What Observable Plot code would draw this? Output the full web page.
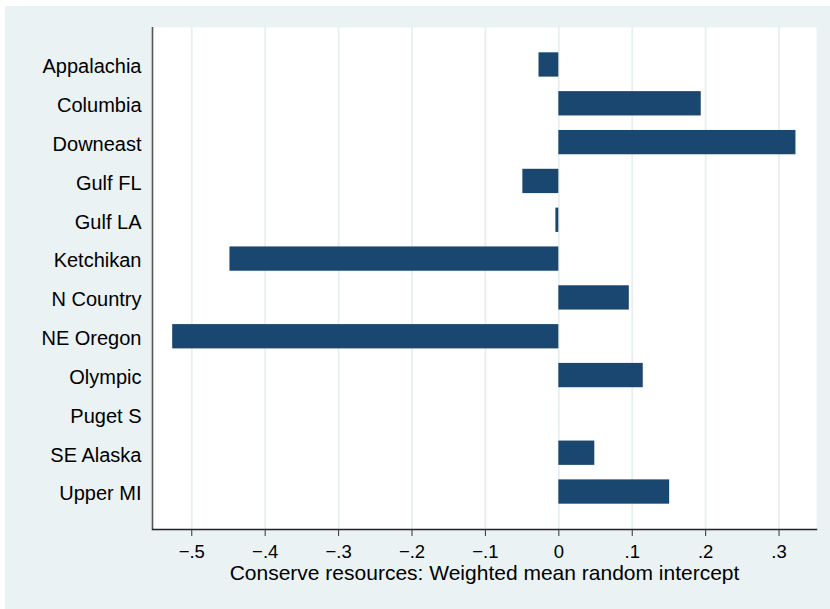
<!DOCTYPE html>
<html><head><meta charset="utf-8">
<script src="https://cdn.jsdelivr.net/npm/d3@7"></script>
<script src="https://cdn.jsdelivr.net/npm/@observablehq/plot@0.6"></script>
<style>
html,body{margin:0;padding:0;background:#fff;}
#chart{position:absolute;left:5px;top:6px;width:825px;height:603px;background:#EAF2F3;}
#chart g[aria-label="x-axis tick label"] text{font-size:18.5px !important;}
#chart g[aria-label="y-axis tick label"] text{font-size:20px !important;}
</style></head><body><div id="chart"></div>
<script>
const regions = ["Appalachia","Columbia","Downeast","Gulf FL","Gulf LA","Ketchikan","N Country","NE Oregon","Olympic","Puget S","SE Alaska","Upper MI"];
const intercepts = [-0.027, 0.194, 0.323, -0.049, -0.004, -0.448, 0.096, -0.526, 0.115, 0.0, 0.049, 0.151];
const xTicks = [-0.5,-0.4,-0.3,-0.2,-0.1,0,0.1,0.2,0.3];
const xTitle = "Conserve resources: Weighted mean random intercept";

const data = regions.map((r,i)=>({region:r, value:intercepts[i]}));
const fmt = d => Math.abs(d) < 1e-9 ? "0" : (d<0?"\u2212":"") + d3.format(".1f")(Math.abs(d)).replace(/^0/,"");
const xDomain = [-0.5535, 0.351];

const chart = Plot.plot({
  width:825, height:603,
  marginLeft:147, marginRight:14, marginTop:21, marginBottom:80,
  style:{background:"transparent", fontFamily:"'Liberation Sans', Arial, Helvetica, sans-serif", color:"#000"},
  x:{domain:xDomain},
  y:{domain:regions, paddingInner:0.374, paddingOuter:0.652, round:false},
  marks:[
    Plot.frame({fill:"white", stroke:null}),
    Plot.gridX(xTicks, {stroke:"#E8EFF1", strokeOpacity:1, strokeWidth:1.8}),
    Plot.barX(data,{x:"value", y:"region", fill:"#1A476F"}),
    Plot.ruleX([xDomain[0]], {stroke:"#555", strokeWidth:1.6}),
    Plot.frame({anchor:"bottom", stroke:"#222", strokeWidth:1.4}),
    Plot.axisX(xTicks, {tickFormat:fmt, tickSize:7, tickPadding:8, fontSize:18.5, label:null, stroke:"#333"}),
    Plot.axisY({tickSize:0, tickPadding:11, fontSize:20, dy:2, label:null}),
    Plot.text([xTitle], {frameAnchor:"bottom", dy:50, fontSize:21, fill:"#000"})
  ]
});
document.getElementById("chart").appendChild(chart);
</script></body></html>
